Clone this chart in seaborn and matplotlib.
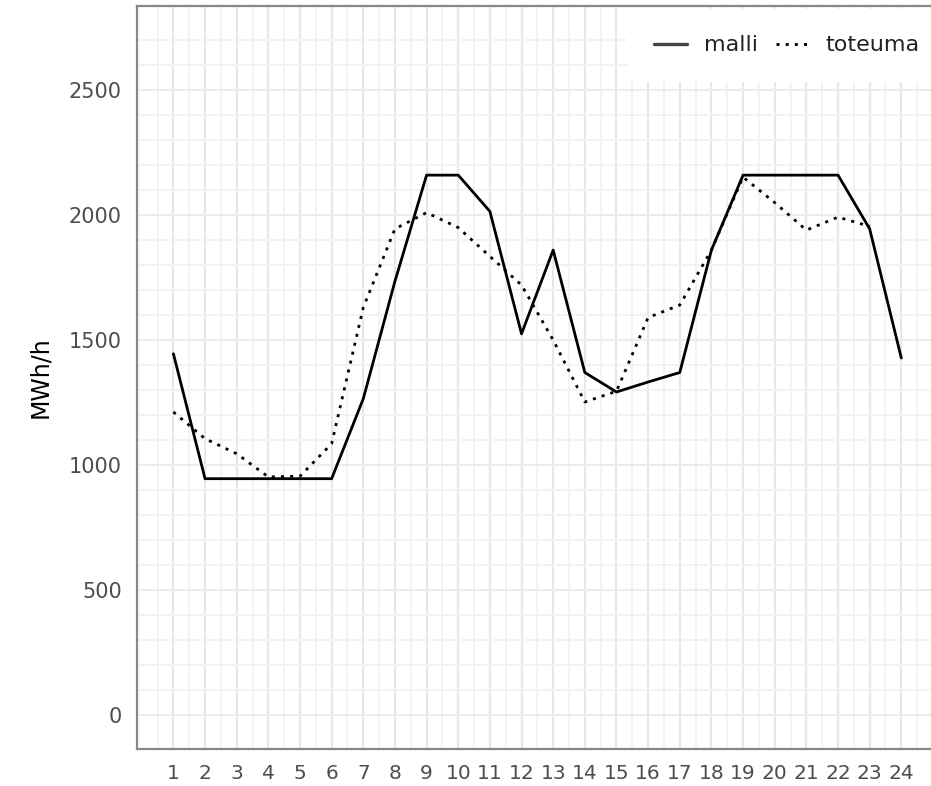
import numpy as np
import pandas as pd
import matplotlib
matplotlib.use("Agg")
import matplotlib.pyplot as plt
from matplotlib.lines import Line2D
import seaborn as sns

# Hourly energy: model forecast vs. realised
hours = list(range(1, 25))
malli = [1445, 945, 945, 945, 945, 945, 1265, 1735, 2160, 2160, 2015, 1525,
         1860, 1370, 1292, 1332, 1370, 1860, 2160, 2160, 2160, 2160, 1945, 1428]
toteuma = [1212, 1105, 1045, 952, 955, 1085, 1630, 1945, 2010, 1950, 1835, 1720,
           1500, 1252, 1295, 1590, 1640, 1860, 2152, 2050, 1940, 1992, 1955, np.nan]
series_names = ["malli", "toteuma"]
y_label = "MWh/h"

df = pd.DataFrame({
    "tunti": hours * 2,
    "arvo": malli + toteuma,
    "sarja": [series_names[0]] * 24 + [series_names[1]] * 24,
})

sns.set_theme(style="white")
plt.rcParams["font.family"] = ["DejaVu Sans"]

W, H = 931, 786
fig = plt.figure(figsize=(W / 100, H / 100), dpi=100)
left_px, right_px, top_px, bottom_px = 137, 937.7, 6.5, 748.5
ax = fig.add_axes([left_px / W, 1 - bottom_px / H,
                   (right_px - left_px) / W, (bottom_px - top_px) / H])
ax.set_facecolor("white")

dot_style = (1.1, 2.2)
sns.lineplot(data=df, x="tunti", y="arvo", style="sarja",
             dashes={"malli": "", "toteuma": dot_style},
             color="black", linewidth=2.0, ax=ax, legend=False,
             estimator=None, sort=False)

ax.set_xlim(1 - 1.15, 24 + 1.15)
ax.set_ylim(-135, 2835)

# ticks and grid
ax.set_xticks(hours)
ax.set_xticklabels([str(h) for h in hours])
ax.set_xticks([h + 0.5 for h in range(0, 25)], minor=True)
ax.set_yticks([0, 500, 1000, 1500, 2000, 2500])
ax.set_yticks([v for v in range(0, 2800, 100) if v % 500 != 0], minor=True)

ax.grid(True, which="major", axis="x", color="#E7E7E7", linewidth=1.5, zorder=0)
ax.grid(True, which="minor", axis="x", color="#F2F2F2", linewidth=1.3, zorder=0)
ax.grid(True, which="major", axis="y", color="#ECECEC", linewidth=1.5, zorder=0)
ax.grid(True, which="minor", axis="y", color="#F2F2F2", linewidth=1.4, zorder=0)
ax.set_axisbelow(True)

ax.tick_params(axis="both", which="minor", length=0)
ax.tick_params(axis="x", which="major", length=5, width=1.4, color="#333333",
               labelsize=14.5, labelcolor="#4D4D4D", pad=6)
ax.tick_params(axis="y", which="major", length=6, width=1.4, color="#555555",
               labelsize=15, labelcolor="#4D4D4D", pad=5)

for side in ["left", "top", "bottom", "right"]:
    ax.spines[side].set_visible(True)
    ax.spines[side].set_color("#888888")
    ax.spines[side].set_linewidth(1.6)

ax.set_xlabel("")
ax.set_ylabel(y_label, fontsize=17, color="black", labelpad=12)

# legend in the top-right corner of the panel
handles = [
    Line2D([], [], color="#444444", linewidth=2.4, linestyle="-"),
    Line2D([], [], color="black", linewidth=2.0, linestyle=(0, dot_style)),
]
leg = ax.legend(handles, series_names, loc="upper right",
                bbox_to_anchor=(1 + 11 / (right_px - left_px), 1),
                ncol=2, frameon=True, fancybox=False, framealpha=1,
                facecolor="white", edgecolor="white", fontsize=16,
                handlelength=1.5, handletextpad=0.75, columnspacing=0.8,
                borderpad=1.2, borderaxespad=0.1)
leg.get_frame().set_linewidth(0)
for t in leg.get_texts():
    t.set_color("#222222")

fig.savefig("out.png", dpi=100)
